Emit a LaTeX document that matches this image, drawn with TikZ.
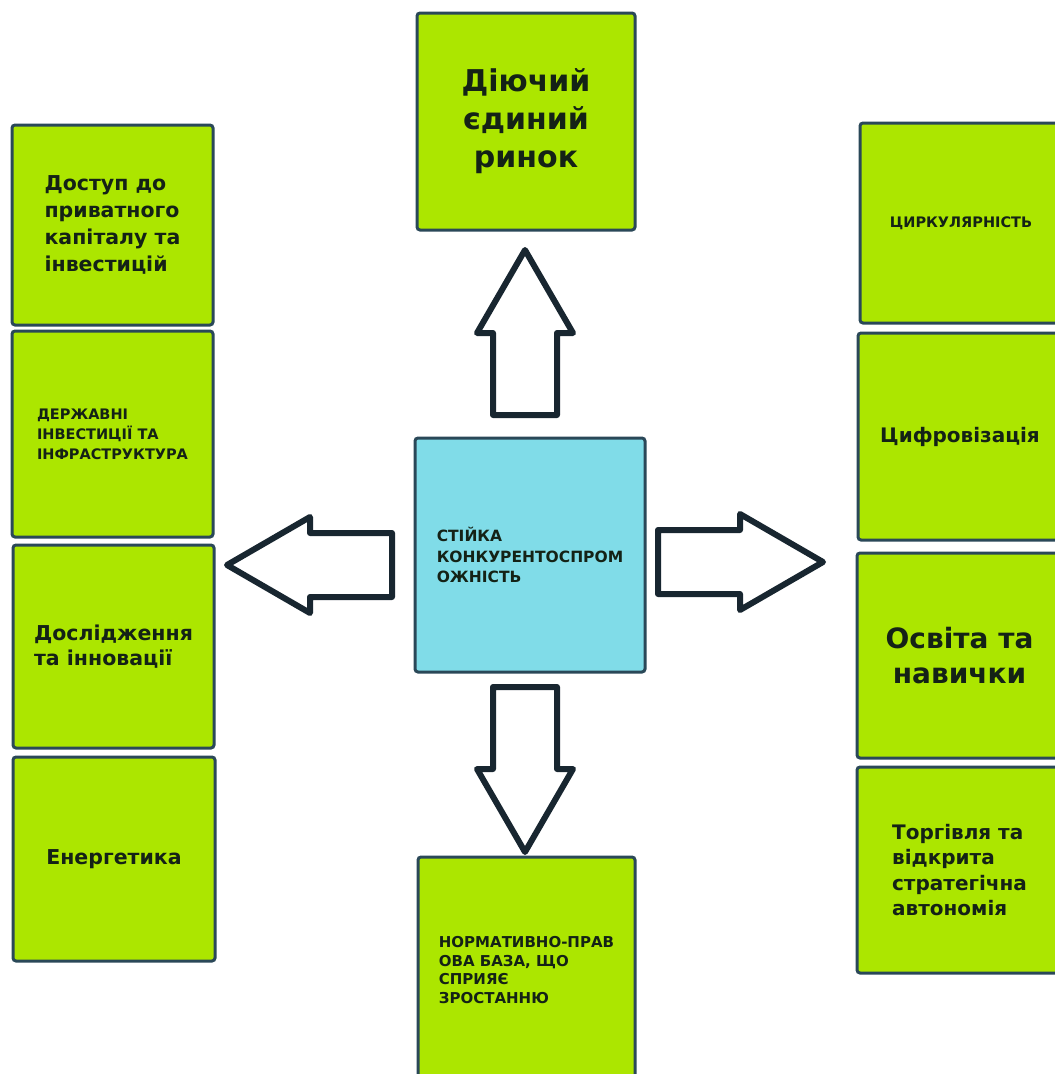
\documentclass[tikz,border=0pt]{standalone}
\usepackage{fontspec}
\setmainfont{DejaVu Sans}
\usetikzlibrary{calc}
\definecolor{boxgreen}{RGB}{172,230,0}
\definecolor{boxblue}{RGB}{128,220,232}
\definecolor{boxline}{RGB}{42,72,88}
\definecolor{arrowline}{RGB}{24,38,48}
\definecolor{boxtext}{RGB}{20,34,22}
\def\blockarrow[#1](#2)(#3){\draw[#1, shift={(#2)}, rotate=#3] (0,-32) -- (82,-32) -- (82,-48) -- (165,0) -- (82,48) -- (82,32) -- (0,32) -- cycle;}

\begin{document}
\begin{tikzpicture}[x=1pt, y=-1pt,
	box/.style={draw=boxline, line width=3pt, rounded corners=3pt, fill=boxgreen, text=boxtext, inner sep=0pt},
	hollow/.style={draw=arrowline, fill=white, line width=6pt, line join=round}]
		%%%%% START %%%%%
		
		\useasboundingbox[fill=white] (0, 0) rectangle (1055, 1074);
		
		\node[box, fill=boxblue, minimum width=230, minimum height=234, align=left, font=\bfseries\fontsize{15.5}{20.5}\selectfont] (core) at (530, 555) {СТІЙКА\\КОНКУРЕНТОСПРОМ\\ОЖНІСТЬ};
		
		\node[box, minimum width=218, minimum height=217, align=center, font=\bfseries\fontsize{30}{38}\selectfont] (market) at (526, 121.5) {Діючий\\єдиний\\ринок};
		\node[box, minimum width=217, minimum height=226, align=left, font=\bfseries\fontsize{15}{18.5}\selectfont] (rules) at (526.5, 970) {НОРМАТИВНО-ПРАВ\\ОВА БАЗА, ЩО\\СПРИЯЄ\\ЗРОСТАННЮ};
		
		\node[box, minimum width=201, minimum height=200, align=left, font=\bfseries\fontsize{20.5}{27}\selectfont] (capital) at (112.5, 225) {Доступ до\\приватного\\капіталу та\\інвестицій};
		\node[box, minimum width=201, minimum height=206, align=left, font=\bfseries\fontsize{14.5}{20}\selectfont] (public) at (112.5, 434) {ДЕРЖАВНІ\\ІНВЕСТИЦІЇ ТА\\ІНФРАСТРУКТУРА};
		\node[box, minimum width=201, minimum height=203, align=left, font=\bfseries\fontsize{20.5}{25}\selectfont] (research) at (113.5, 646.5) {Дослідження\\та інновації};
		\node[box, minimum width=202, minimum height=204, font=\bfseries\fontsize{20.5}{25}\selectfont] (energy) at (114, 859) {Енергетика};
		
		\node[box, minimum width=202, minimum height=200, font=\bfseries\fontsize{14.5}{18}\selectfont] (circular) at (961, 223) {ЦИРКУЛЯРНІСТЬ};
		\node[box, minimum width=204, minimum height=207, font=\bfseries\fontsize{20}{25}\selectfont] (digital) at (960, 436.5) {Цифровізація};
		\node[box, minimum width=205, minimum height=205, align=center, font=\bfseries\fontsize{28}{35}\selectfont] (skills) at (959.5, 655.5) {Освіта та\\навички};
		\node[box, minimum width=205, minimum height=206, align=left, font=\bfseries\fontsize{20}{25.5}\selectfont] (trade) at (959.5, 870) {Торгівля та\\відкрита\\стратегічна\\автономія};
		
		\blockarrow[hollow](525, 415)(90);
		\blockarrow[hollow](658, 562)(0);
		\blockarrow[hollow](392, 565)(180);
		\blockarrow[hollow](525, 687)(-90);
		
		%%%%% END %%%%%
\end{tikzpicture}
\end{document}
